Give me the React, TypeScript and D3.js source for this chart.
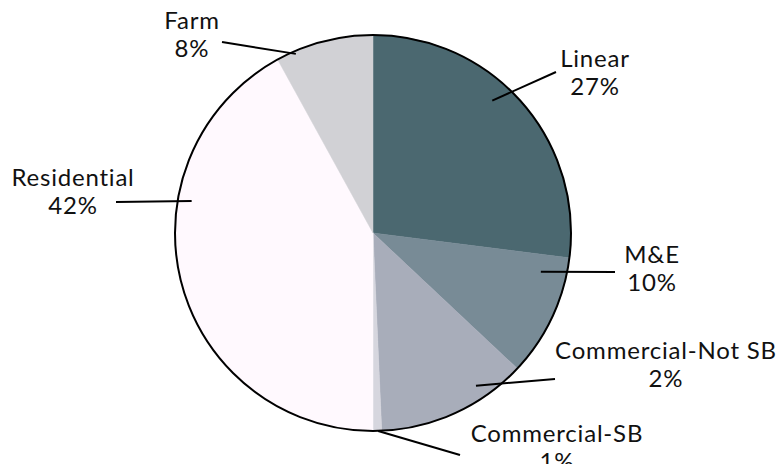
import React from "react";
import * as d3 from "d3";

const categories = ["Linear", "M&E", "Commercial-Not SB", "Commercial-SB", "Residential", "Farm"];
const values = [27, 10, 12.3, 0.7, 42, 8];
const pctLabels = ["27%", "10%", "2%", "1%", "42%", "8%"];
const colors = ["#4b6870", "#788b96", "#a8adba", "#d6d6de", "#fff9fe", "#d1d1d5"];

// layout for annotations: leader line inner point (angle deg, radius factor), outer point, text center
const leaderLayout = [
  { a: 42, rf: 0.9, x2: 556, y2: 72, tx: 595, ty: 67 },
  { a: 103, rf: 0.87, x2: 615, y2: 272, tx: 652, ty: 263 },
  { a: 146, rf: 0.93, x2: 555, y2: 379, tx: 666, ty: 359 },
  { a: 178.5, rf: 1.0, x2: 460, y2: 455, tx: 557, ty: 442 },
  { a: 280, rf: 0.93, x2: 116, y2: 202, tx: 73, ty: 186 },
  { a: 336.7, rf: 0.985, x2: 222, y2: 42, tx: 192, ty: 29 },
];

const W = 783;
const H = 464;
const cx = 373;
const cy = 233;
const R = 198;

export default function App() {
  const pie = d3.pie<number>().sort(null).value((d) => d)(values);
  const arc = d3.arc<d3.PieArcDatum<number>>().innerRadius(0).outerRadius(R);
  const font = "Lato, 'Open Sans', sans-serif";
  return (
    <svg width={W} height={H} style={{ position: "absolute", left: 0, top: 0 }}>
      <g transform={`translate(${cx},${cy})`}>
        {pie.map((p, i) => (
          <path key={i} d={arc(p) || ""} fill={colors[i]} stroke={colors[i]} strokeWidth={0.5} />
        ))}
        <circle r={R} fill="none" stroke="#000" strokeWidth={2} />
      </g>
      {categories.map((c, i) => {
        const L = leaderLayout[i];
        const rad = (L.a * Math.PI) / 180;
        const x1 = cx + Math.sin(rad) * R * L.rf;
        const y1 = cy - Math.cos(rad) * R * L.rf;
        return (
          <g key={c}>
            <line x1={x1} y1={y1} x2={L.x2} y2={L.y2} stroke="#000" strokeWidth={2} />
            <text x={L.tx} y={L.ty} textAnchor="middle" fontFamily={font} fontSize={24} letterSpacing={0.8} fill="#111">
              {c}
            </text>
            <text x={L.tx} y={L.ty + 28} textAnchor="middle" fontFamily={font} fontSize={24} letterSpacing={0.8} fill="#111">
              {pctLabels[i]}
            </text>
          </g>
        );
      })}
    </svg>
  );
}
